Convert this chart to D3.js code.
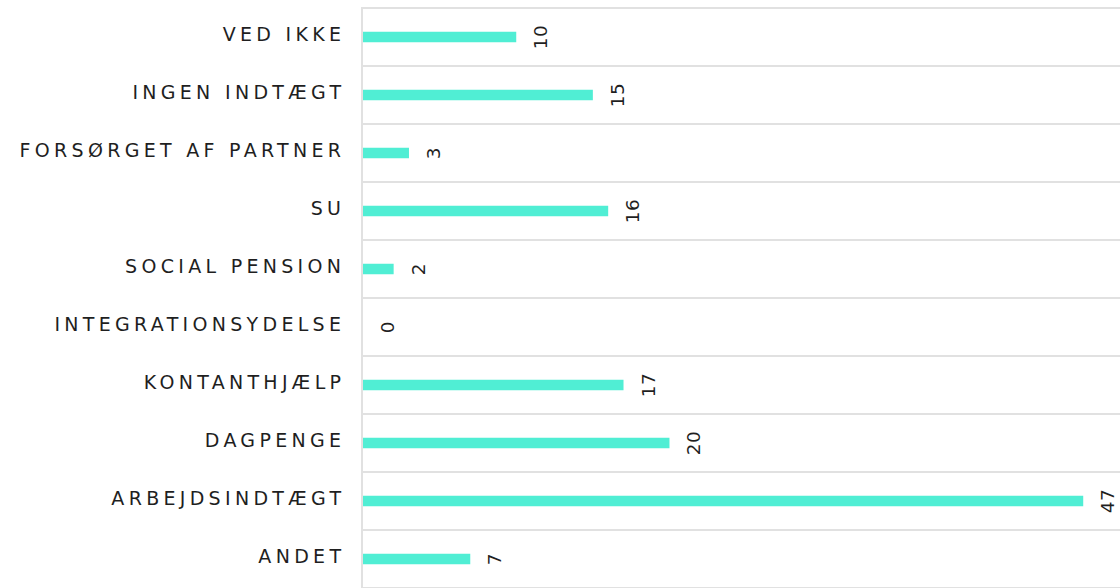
<!DOCTYPE html>
<html>
<head>
<meta charset="utf-8">
<script src="https://cdn.jsdelivr.net/npm/d3@7"></script>
<style>
  body { margin: 0; background: #fff; }
  text { font-family: "DejaVu Sans", "Open Sans", sans-serif; fill: #1f1f1f; font-weight: 400; }
</style>
</head>
<body>
<div id="chart-container"></div>
<script>
// Data
const categories = ["VED IKKE", "INGEN INDTÆGT", "FORSØRGET AF PARTNER", "SU", "SOCIAL PENSION",
  "INTEGRATIONSYDELSE", "KONTANTHJÆLP", "DAGPENGE", "ARBEJDSINDTÆGT", "ANDET"];
const values = [10, 15, 3, 16, 2, 0, 17, 20, 47, 7];

const data = categories.map((c, i) => ({ category: c, value: values[i] }));

const width = 1120, height = 588;
const margin = { top: 8, right: 0, bottom: 0, left: 362 };
const rowH = 58;

const svg = d3.select("#chart-container")
  .append("svg")
  .attr("width", width)
  .attr("height", height);

// Scales
const yScale = d3.scaleBand()
  .domain(categories)
  .range([margin.top, margin.top + rowH * categories.length])
  .paddingInner(0).paddingOuter(0);

const xScale = d3.scaleLinear()
  .domain([0, 49.4])
  .range([margin.left + 1, width]);

// Row separator lines
const bounds = categories.map(c => yScale(c)).concat([yScale.range()[1]]);
svg.selectAll(".grid")
  .data(bounds)
  .enter().append("line")
  .attr("class", "grid")
  .attr("x1", margin.left).attr("x2", width)
  .attr("y1", d => d).attr("y2", d => d)
  .attr("stroke", "#e1e1e1")
  .attr("stroke-width", 1.8);

// Left axis line
svg.append("line")
  .attr("x1", margin.left).attr("x2", margin.left)
  .attr("y1", margin.top - 1).attr("y2", height)
  .attr("stroke", "#e1e1e1")
  .attr("stroke-width", 2);

// Bars
const barH = 10.5;
svg.selectAll(".bar")
  .data(data)
  .enter().append("rect")
  .attr("class", "bar")
  .attr("x", xScale(0))
  .attr("y", d => yScale(d.category) + yScale.bandwidth() / 2 - barH / 2)
  .attr("width", d => xScale(d.value) - xScale(0))
  .attr("height", barH)
  .attr("fill", "#50eed4");

// Category labels
const ls = 4.3;
svg.selectAll(".cat")
  .data(data)
  .enter().append("text")
  .attr("class", "cat")
  .attr("x", margin.left - 21 + ls)
  .attr("y", d => yScale(d.category) + yScale.bandwidth() / 2 + 4)
  .attr("text-anchor", "end")
  .style("font-size", "19px")
  .style("letter-spacing", ls + "px")
  .text(d => d.category);

// Value labels, rotated
svg.selectAll(".val")
  .data(data)
  .enter().append("text")
  .attr("class", "val")
  .attr("transform", d => "translate(" + (xScale(d.value) + 31) + "," +
    (yScale(d.category) + yScale.bandwidth() / 2) + ") rotate(-90)")
  .attr("text-anchor", "middle")
  .style("font-size", "18.5px")
  .style("letter-spacing", "0.5px")
  .text(d => d.value);
</script>
</body>
</html>
